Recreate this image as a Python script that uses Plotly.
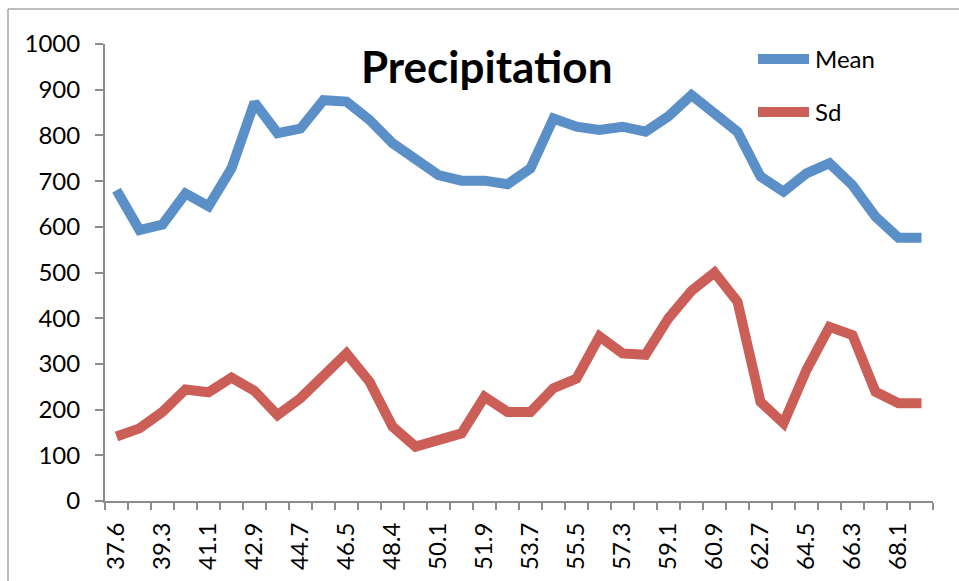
import plotly.graph_objects as go

# Category labels (latitude bands) along the x axis
latitudes = [
    "37.6", "38.5", "39.3", "40.2", "41.1", "42.0", "42.9", "43.8", "44.7",
    "45.6", "46.5", "47.5", "48.4", "49.2", "50.1", "51.0", "51.9", "52.8",
    "53.7", "54.6", "55.5", "56.4", "57.3", "58.2", "59.1", "60.0", "60.9",
    "61.8", "62.7", "63.6", "64.5", "65.4", "66.3", "67.2", "68.1", "69.0",
]

# Mean precipitation per band
mean_precip = [
    680, 593, 605, 673, 645, 728, 872, 805, 815, 877, 874, 834,
    783, 746, 713, 701, 701, 693, 728, 837, 819, 812, 819, 808,
    842, 888, 845, 808, 710, 677, 717, 739, 691, 622, 576, 576,
]

# Standard deviation per band
sd_precip = [
    141, 159, 195, 244, 238, 270, 241, 188, 225, 276, 323, 261,
    163, 119, 133, 148, 228, 195, 195, 247, 268, 360, 323, 320,
    400, 460, 500, 436, 217, 170, 287, 381, 363, 239, 214, 214,
]

BLUE = "#5B8FC8"
RED = "#CB5F57"
AXIS = "#8C8C8C"
FONT = "Lato"

idx = list(range(len(latitudes)))

fig = go.Figure()
fig.add_trace(go.Scatter(x=idx, y=mean_precip, mode="lines", name="Mean",
                         line=dict(color=BLUE, width=10)))
fig.add_trace(go.Scatter(x=idx, y=sd_precip, mode="lines", name="Sd",
                         line=dict(color=RED, width=10)))

fig.update_layout(
    width=959, height=581,
    margin=dict(l=105, r=26, t=44, b=80),
    paper_bgcolor="white", plot_bgcolor="white",
    showlegend=False,
    font=dict(family=FONT, size=24, color="black"),
    title=dict(text="Precipitation", x=0.461, xref="paper", xanchor="center",
               y=1 - 68 / 581, yref="container", yanchor="middle",
               font=dict(family=FONT, size=44, weight="bold", color="black")),
)

fig.update_xaxes(
    range=[-0.5, len(latitudes) - 0.5],
    tickmode="array", tickvals=idx[::2], ticktext=latitudes[::2],
    tickangle=-90, ticks="", showgrid=False, zeroline=False,
    showline=True, linecolor=AXIS, linewidth=2,
    tickfont=dict(family=FONT, size=24, color="black"),
    ticklabelstandoff=10,
    minor=dict(tick0=-0.5, dtick=1, ticks="outside", ticklen=7,
               tickcolor=AXIS, tickwidth=2, showgrid=False),
)

fig.update_yaxes(
    range=[0, 1000], tickmode="linear", tick0=0, dtick=100,
    ticks="outside", ticklen=8, tickcolor=AXIS, tickwidth=2,
    showgrid=False, zeroline=False,
    showline=True, linecolor=AXIS, linewidth=2,
    tickfont=dict(family=FONT, size=24, color="black"),
    ticklabelstandoff=10,
)

# Legend: short line samples with labels at the upper right
legend_items = [("Mean", BLUE, 59), ("Sd", RED, 112)]
for label, color, ypx in legend_items:
    yp = (581 - ypx - 80) / 457
    fig.add_shape(type="line", xref="paper", yref="paper",
                  x0=(758 - 105) / 828, x1=(809 - 105) / 828,
                  y0=yp, y1=yp,
                  line=dict(color=color, width=10))
    fig.add_annotation(text=label, xref="paper", yref="paper",
                       x=(813 - 105) / 828, y=yp,
                       xanchor="left", yanchor="middle", showarrow=False,
                       font=dict(family=FONT, size=24, color="black"))

# Thin frame along the left and top edges of the chart area
fig.add_shape(type="line", xref="paper", yref="paper",
              x0=(8 - 105) / 828, x1=(8 - 105) / 828,
              y0=(80 - 581) / 457, y1=(581 - 9 - 80) / 457,
              line=dict(color="#A6A6A6", width=1.5))
fig.add_shape(type="line", xref="paper", yref="paper",
              x0=(8 - 105) / 828, x1=(959 - 105) / 828,
              y0=(581 - 9 - 80) / 457, y1=(581 - 9 - 80) / 457,
              line=dict(color="#A6A6A6", width=1.5))

fig.write_html("out.html")
